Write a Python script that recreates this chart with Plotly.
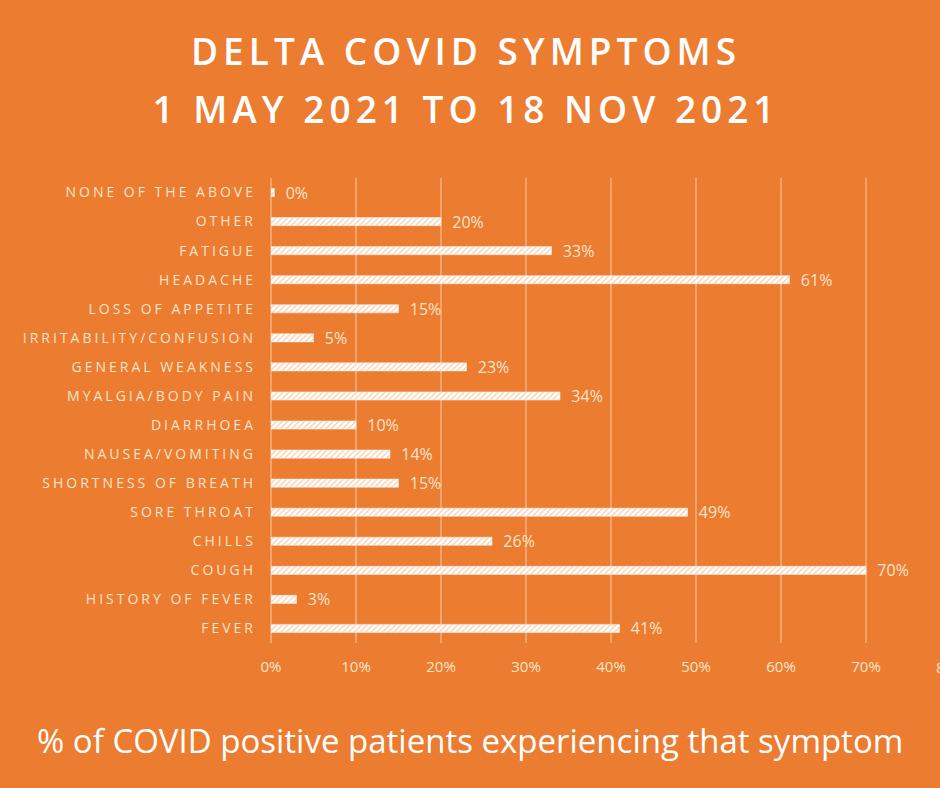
import plotly.graph_objects as go

categories = ["FEVER", "HISTORY OF FEVER", "COUGH", "CHILLS", "SORE THROAT",
              "SHORTNESS OF BREATH", "NAUSEA/VOMITING", "DIARRHOEA",
              "MYALGIA/BODY PAIN", "GENERAL WEAKNESS", "IRRITABILITY/CONFUSION",
              "LOSS OF APPETITE", "HEADACHE", "FATIGUE", "OTHER", "NONE OF THE ABOVE"]
values = [41, 3, 70, 26, 49, 15, 14, 10, 34, 23, 5, 15, 61, 33, 20, 0.4]
value_labels = ["41%", "3%", "70%", "26%", "49%", "15%", "14%", "10%",
                "34%", "23%", "5%", "15%", "61%", "33%", "20%", "0%"]
tick_vals = [0, 10, 20, 30, 40, 50, 60, 70, 80]
tick_text = ["0%", "10%", "20%", "30%", "40%", "50%", "60%", "70%", "80%"]
title_lines = ["DELTA COVID SYMPTOMS", "1 MAY 2021 TO 18 NOV 2021"]
x_title = "% of COVID positive patients experiencing that symptom"

X_MAX = 78.7
BG = "#EC7C30"
CREAM = "#FCE4CC"
GRID = "#F3A46C"

fig = go.Figure(go.Bar(
    y=categories, x=values, orientation="h",
    width=0.28,
    marker=dict(color="#FFFFFF", line=dict(color="#FFF6EE", width=0.5),
                pattern=dict(shape="/", fgcolor=BG, bgcolor="#FFFFFF", size=4, solidity=0.25)),
    text=value_labels, texttemplate="\u00a0\u00a0%{text}",
    textposition="outside", cliponaxis=False, constraintext="none",
    textfont=dict(family="Open Sans", size=16, color=CREAM),
))

fig.update_layout(
    width=940, height=788,
    paper_bgcolor=BG, plot_bgcolor=BG,
    margin=dict(l=271, r=0, t=178, b=145),
    showlegend=False,
    bargap=0.72,
)
fig.update_xaxes(range=[0, X_MAX], tickvals=tick_vals, ticktext=tick_text,
                 showgrid=True, gridcolor=GRID, gridwidth=1.5,
                 zeroline=True, zerolinecolor=GRID, zerolinewidth=1.5,
                 tickfont=dict(family="Open Sans", size=15, color=CREAM),
                 ticks="", ticklabelstandoff=13, showline=False)
fig.update_yaxes(tickfont=dict(family="Open Sans", size=14, color=CREAM),
                 ticks="", ticklabelstandoff=14, showgrid=False)

# title lines
fig.add_annotation(text=title_lines[0], xref="paper", yref="paper",
                   x=(466 - 271) / 669, y=1, yshift=128, xanchor="center", yanchor="middle",
                   showarrow=False,
                   font=dict(family="Open Sans", size=37, color="#FFFFFF", weight=600))
fig.add_annotation(text=title_lines[1], xref="paper", yref="paper",
                   x=(466 - 271) / 669, y=1, yshift=70, xanchor="center", yanchor="middle",
                   showarrow=False,
                   font=dict(family="Open Sans", size=37, color="#FFFFFF", weight=600))
# x axis title
fig.add_annotation(text=x_title, xref="paper", yref="paper",
                   x=(470 - 271) / 669, y=0, yshift=-97, xanchor="center", yanchor="middle",
                   showarrow=False,
                   font=dict(family="Open Sans", size=33, color="#FFFFFF"))
# last tick label, cut by the right edge as in the reference
fig.add_annotation(text=tick_text[-1], xref="paper", yref="paper",
                   x=tick_vals[-1] / X_MAX, y=0, yshift=-24, xanchor="center", yanchor="middle",
                   showarrow=False,
                   font=dict(family="Open Sans", size=15, color=CREAM))

post = """
var s = document.createElement('style');
s.textContent = '.ytick text{letter-spacing:3px !important;}' +
  '.annotation[data-index="0"] text, .annotation[data-index="1"] text{letter-spacing:5px !important;}';
document.head.appendChild(s);
"""
fig.write_html("out.html", post_script=post)
